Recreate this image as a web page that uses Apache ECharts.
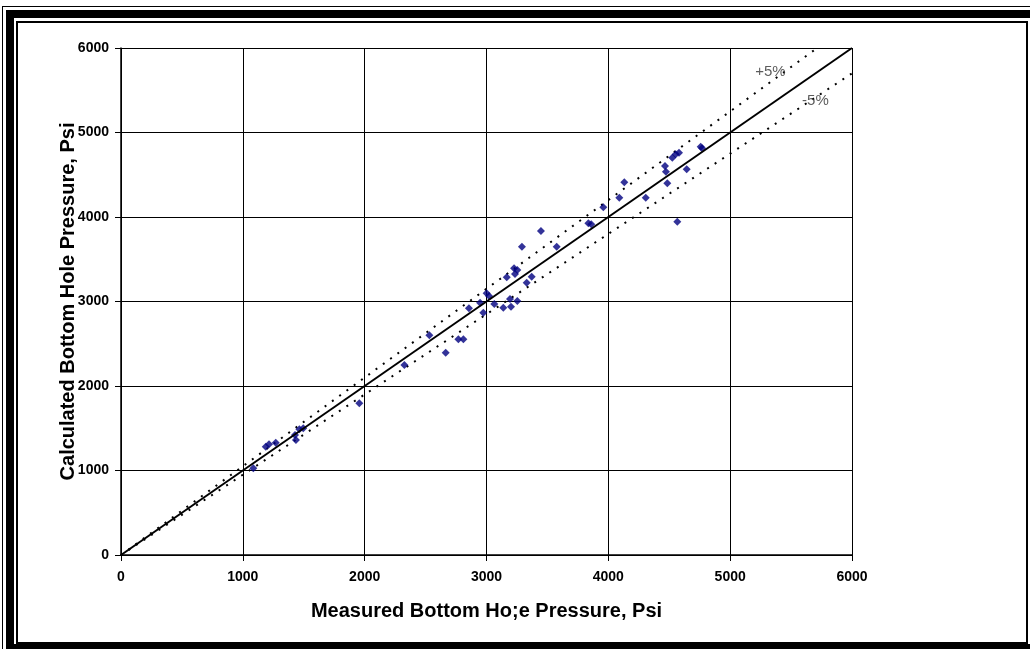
<!DOCTYPE html>
<html>
<head>
<meta charset="utf-8">
<script src="https://cdn.jsdelivr.net/npm/echarts@6/dist/echarts.min.js"></script>
<style>
  html, body { margin: 0; padding: 0; background: #fff; }
  #wrap { position: relative; width: 1030px; height: 649px; overflow: hidden; background: #fff; }
  #chart { position: absolute; left: 0; top: 0; width: 1030px; height: 649px; }
  .f { position: absolute; background: #000; pointer-events: none; }
</style>
</head>
<body>
<div id="wrap">
  <div id="chart"></div>
  <div class="f" style="left:2px; top:6px; width:1px; height:643px;"></div>
  <div class="f" style="left:2px; top:6px; width:1028px; height:1px;"></div>
  <div class="f" style="left:6px; top:10px; width:8px; height:639px;"></div>
  <div class="f" style="left:6px; top:10px; width:1024px; height:8px;"></div>
  <div class="f" style="left:6px; top:644px; width:1024px; height:5px;"></div>
  <div style="position:absolute; left:16px; top:21px; width:1008px; height:619px; border:2px solid #000; pointer-events:none;"></div>
</div>
<script>
// ---- data (psi) ----
const measured = [
  1086, 1188, 1215, 1270, 1428, 1436, 1464, 1496,
  1956, 2326, 2531, 2665, 2769, 2810, 2856, 2947, 2974, 3001, 3021, 3064,
  3138, 3166, 3193, 3201, 3226, 3234, 3253, 3253, 3291, 3330, 3371, 3447,
  3576, 3836, 3860, 3959, 4090, 4131, 4307, 4465, 4473, 4484, 4525, 4553,
  4580, 4566, 4643, 4758, 4770
];
const calculated = [
  1026, 1282, 1310, 1329, 1420, 1361, 1487, 1499,
  1795, 2249, 2600, 2394, 2552, 2552, 2919, 2986, 2868, 3097, 3065, 2970,
  2927, 3286, 3030, 2939, 3393, 3325, 3373, 3006, 3649, 3222, 3293, 3834,
  3649, 3925, 3915, 4114, 4228, 4410, 4228, 4603, 4536, 4399, 4702, 4742,
  4761, 3944, 4564, 4832, 4815
];
const perfectLine = [[0, 0], [6000, 6000]];
const plus5Line = [[0, 0], [6000 / 1.05, 6000]];
const minus5Line = [[0, 0], [6000, 6000 * 0.95]];
const bandLabels = [
  { text: '+5%', at: [5330, 5720] },
  { text: '-5%', at: [5700, 5380] }
];
const tickValues = [0, 1000, 2000, 3000, 4000, 5000, 6000];
const xTitle = 'Measured Bottom Ho;e Pressure, Psi';
const yTitle = 'Calculated Bottom Hole Pressure, Psi';

const points = measured.map((m, i) => [m, calculated[i]]);
const FONT = '"Liberation Sans", Arial, sans-serif';

const axisCommon = {
  type: 'value',
  min: tickValues[0],
  max: tickValues[tickValues.length - 1],
  interval: 1000,
  nameLocation: 'middle',
  nameMoveOverlap: false,
  nameTextStyle: { fontFamily: FONT, fontWeight: 'bold', fontSize: 20, color: '#000' },
  axisLine: { show: true, onZero: false, lineStyle: { color: '#000', width: 1.5 } },
  axisTick: { show: true, length: 6, lineStyle: { color: '#000', width: 1 } },
  axisLabel: { fontFamily: FONT, fontWeight: 'bold', fontSize: 14, color: '#000',
               formatter: v => String(v) },
  splitLine: { show: true, lineStyle: { color: '#000', width: 1 } }
};

const chart = echarts.init(document.getElementById('chart'), null, { renderer: 'canvas' });
chart.setOption({
  backgroundColor: '#fff',
  animation: false,
  grid: { left: 121, top: 48, right: 178, bottom: 94, containLabel: false },
  xAxis: Object.assign({}, axisCommon, {
    name: xTitle, nameGap: 46,
    axisLabel: Object.assign({}, axisCommon.axisLabel, { margin: 15 })
  }),
  yAxis: Object.assign({}, axisCommon, {
    name: yTitle, nameGap: 43,
    axisLabel: Object.assign({}, axisCommon.axisLabel, { margin: 12 })
  }),
  series: [
    {
      type: 'line', data: plus5Line, symbol: 'none', z: 3,
      lineStyle: { color: '#000', width: 2, type: [2, 7] }
    },
    {
      type: 'line', data: minus5Line, symbol: 'none', z: 3,
      lineStyle: { color: '#000', width: 2, type: [2, 7] }
    },
    {
      type: 'scatter', data: points, symbol: 'diamond', symbolSize: 8, z: 4,
      itemStyle: { color: '#000080' }
    },
    {
      type: 'line', data: perfectLine, symbol: 'none', z: 5,
      lineStyle: { color: '#000', width: 2 }
    },
    {
      type: 'scatter', symbolSize: 0, z: 6,
      data: bandLabels.map(b => ({ value: b.at, name: b.text })),
      label: {
        show: true, position: 'inside', formatter: p => p.name,
        fontFamily: FONT, fontSize: 15, color: '#333'
      }
    }
  ]
});
</script>
</body>
</html>
